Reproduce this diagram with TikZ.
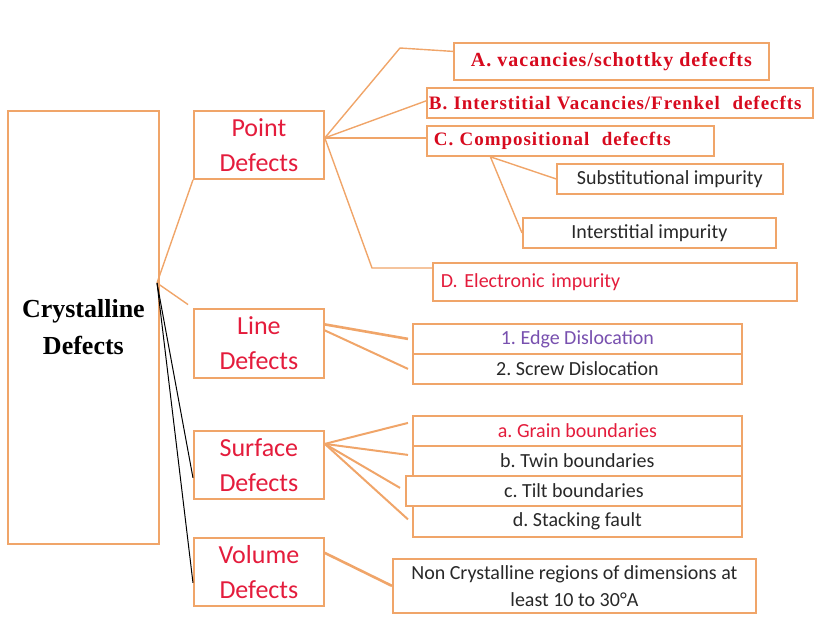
\documentclass[tikz,border=0pt]{standalone}
\usepackage{fontspec}
\setmainfont{Carlito}
\newfontfamily\timesfont{Liberation Serif}
\newfontfamily\timesspaced{Liberation Serif}[LetterSpace=5]
\frenchspacing

\begin{document}
\begin{tikzpicture}[x=1pt,y=-1pt]
%
\useasboundingbox (0,0) rectangle (815,622);
%
\definecolor{cbd}{RGB}{240,165,105}
\definecolor{ctr}{RGB}{228,28,60}
\definecolor{ctb}{RGB}{215,10,30}
\definecolor{ctp}{RGB}{120,80,175}
\definecolor{ctk}{RGB}{40,40,40}
%
\tikzset{
  box/.style={draw=cbd, line width=1.8pt, fill=white, inner sep=0pt, anchor=north west, align=center},
  big/.style={box, text=ctr, font=\fontsize{26}{35}\selectfont},
  small/.style={box, text=ctk, font=\fontsize{20}{27}\selectfont},
  boldred/.style={box, text=ctb, font=\timesspaced\bfseries\fontsize{19}{24}\selectfont},
  con/.style={draw=cbd, line width=1.4pt},
  conthick/.style={draw=cbd, line width=2.6pt},
}
%
\node[box, minimum width=151, minimum height=433, font=\timesfont\bfseries\fontsize{26}{37}\selectfont] (cryst) at (7,110) {Crystalline\\Defects};
%
\node[big, minimum width=130, minimum height=68] (point) at (193,110) {Point\\Defects};
\node[big, minimum width=130, minimum height=69] (line) at (193,308) {Line\\Defects};
\node[big, minimum width=130, minimum height=68] (surf) at (193,430) {Surface\\Defects};
\node[big, minimum width=130, minimum height=68] (vol) at (193,537) {Volume\\Defects};
%
\node[boldred, minimum width=315, minimum height=37, font=\timesspaced\bfseries\fontsize{20}{24}\selectfont] (vacA) at (453,42) {A. vacancies/schottky defecfts};
\node[boldred, minimum height=30, inner xsep=2pt, text width=382, align=left] (interB) at (426,87) {B. Interstitial Vacancies/Frenkel\ \ defecfts};
\node[boldred, minimum height=30, inner xsep=7pt, text width=273, align=left] (compC) at (426,125) {C. Compositional\ \ defecfts};
\node[small, minimum width=226, minimum height=30] (subst) at (556,163) {Substitutional impurity};
\node[small, minimum width=253, minimum height=30] (interst) at (522,217) {Interstitial impurity};
\node[small, text=ctr, minimum height=38, inner xsep=8pt, text width=348, align=left] (elecD) at (432,262) {D. Electronic impurity};
%
\node[small, text=ctp, minimum width=329, minimum height=30] (edge) at (412,323) {1. Edge Dislocation};
\node[small, minimum width=329, minimum height=30] (screw) at (412,353) {2. Screw Dislocation};
%
\node[small, text=ctr, minimum width=329, minimum height=30] (grain) at (412,415) {a. Grain boundaries};
\node[small, minimum width=329, minimum height=30] (twin) at (412,445) {b. Twin boundaries};
\node[small, minimum width=336, minimum height=30] (tilt) at (405,475) {c. Tilt boundaries};
\node[small, minimum width=329, minimum height=31] (stack) at (412,505) {d. Stacking fault};
%
\node[small, minimum width=363, minimum height=54] (noncr) at (392,558) {Non Crystalline regions of dimensions at\\least 10 to 30\textdegree A};
%
\coordinate (hubC) at (157,283);
\draw[con] (hubC) -- (point.south west);
\draw[con, shorten >=6pt] (hubC) -- (line.north west);
\draw[black, line width=1pt] (hubC) -- ([yshift=-13pt]surf.west);
\draw[black, line width=1pt] (hubC) -- ([yshift=-11pt]vol.west);
%
\coordinate (hubP) at ([yshift=7pt]point.east);
\coordinate (bendA) at (400,48);
\coordinate (bendD) at (372,268);
\draw[con] (hubP) -- (bendA) -- ([yshift=10pt]vacA.west);
\draw[con] (hubP) -- ([yshift=2pt]interB.west);
\draw[con] (hubP) -- ([yshift=3pt]compC.west);
\draw[con] (hubP) -- (bendD) -- ([yshift=-6pt]elecD.north west);
\draw[con] ([xshift=-80pt]compC.south) -- (subst.west);
\draw[con] ([xshift=-80pt]compC.south) -- (interst.west);
%
\draw[conthick] ([yshift=19pt]line.east) -- ([xshift=-4pt]edge.west);
\draw[con, line width=2pt] ([yshift=13pt]line.east) -- ([xshift=-4pt]screw.west);
%
\coordinate (hubS) at ([yshift=21pt]surf.east);
\draw[con, line width=2pt] (hubS) -- ([shift={(-4pt,8pt)}]grain.west);
\draw[con, line width=2pt] (hubS) -- ([shift={(-4pt,6pt)}]twin.west);
\draw[con, line width=2pt] (hubS) -- ([shift={(-5pt,3pt)}]tilt.west);
\draw[con, line width=2pt] (hubS) -- ([shift={(-4pt,2pt)}]stack.west);
%
\draw[conthick] ([yshift=19pt]vol.east) -- (noncr.west);
%
\end{tikzpicture}
\end{document}
